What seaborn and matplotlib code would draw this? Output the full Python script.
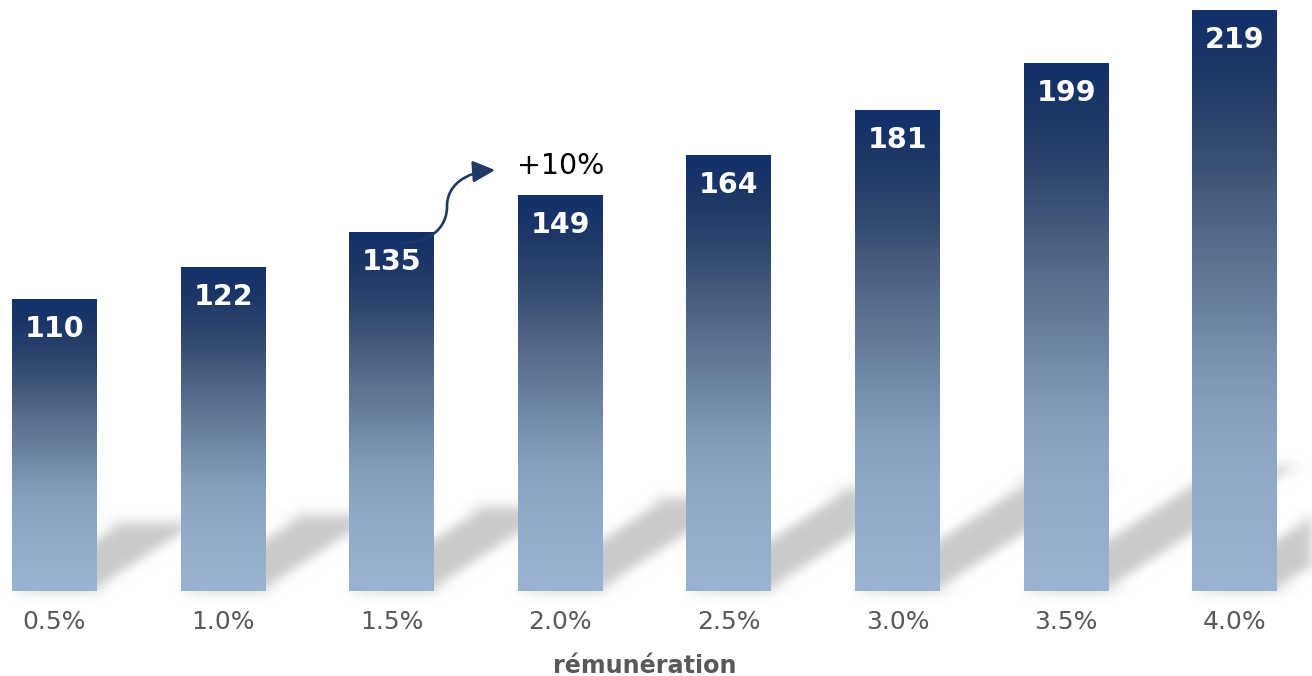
import numpy as np
import pandas as pd
import matplotlib
matplotlib.use("Agg")
import matplotlib.pyplot as plt
import seaborn as sns
from matplotlib.colors import LinearSegmentedColormap
from matplotlib.patches import Polygon, FancyArrowPatch
from matplotlib.path import Path

# --- data -------------------------------------------------------------
rates = ["0.5%", "1.0%", "1.5%", "2.0%", "2.5%", "3.0%", "3.5%", "4.0%"]
values = [110, 122, 135, 149, 164, 181, 199, 219]
x_title = "rémunération"
growth_note = "+10%"

# --- style ------------------------------------------------------------
BAR_WIDTH = 0.504
TICK_GREY = "#595959"
ARROW_NAVY = "#1f3864"
SHADOW_SHEAR = 0.0057    # horizontal lean of the cast shadow per unit of value
SHADOW_SQUASH = 0.235    # vertical foreshortening of the cast shadow
SHADOW_SIGMA = 6.5       # blur radius in pixels

grad = LinearSegmentedColormap.from_list(
    "bar_grad",
    [(0.00, "#9ab3d2"), (0.21, "#91a9c8"), (0.33, "#869ebd"),
     (0.44, "#7289aa"), (0.56, "#5f7394"), (0.67, "#4a5d82"),
     (0.79, "#2f466e"), (0.90, "#1e3866"), (1.00, "#12306a")],
)

sns.set_theme(style="white")
plt.rcParams["font.family"] = ["DejaVu Sans"]

fig = plt.figure(figsize=(13.12, 6.76), dpi=100)
ax = fig.add_axes([0, 85 / 676, 1, 591 / 676])

df = pd.DataFrame({"rate": rates, "value": values})
sns.barplot(data=df, x="rate", y="value", width=BAR_WIDTH, color="#12306a",
            saturation=1, ax=ax, zorder=3)


def gaussian_blur(img, dpi):
    pad = int(3 * SHADOW_SIGMA) + 2
    src = np.pad(img, ((pad, pad), (pad, pad), (0, 0)))
    k = np.arange(-pad, pad + 1)
    w = np.exp(-0.5 * (k / SHADOW_SIGMA) ** 2)
    w /= w.sum()
    tmp = np.zeros_like(src)
    for off, wk in zip(k, w):
        tmp += wk * np.roll(src, off, axis=0)
    out = np.zeros_like(src)
    for off, wk in zip(k, w):
        out += wk * np.roll(tmp, off, axis=1)
    return out, -pad, -pad


# gradient fill and cast shadow for each bar
for patch, v in zip(ax.patches, values):
    x0 = patch.get_x()
    x1 = x0 + patch.get_width()
    h = patch.get_height()
    g = np.linspace(0, 1, 256).reshape(-1, 1)
    ax.imshow(g, cmap=grad, origin="lower", aspect="auto",
              extent=[x0, x1, 0, h], zorder=3, interpolation="bicubic")
    patch.set_facecolor("none")
    patch.set_edgecolor("none")

    dx = SHADOW_SHEAR * v
    dy = SHADOW_SQUASH * v
    shadow = Polygon([(x0, 0), (x1, 0), (x1 + dx, dy), (x0 + dx, dy)],
                     closed=True, facecolor=(0, 0, 0, 0.21), edgecolor="none",
                     zorder=1)
    shadow.set_agg_filter(gaussian_blur)
    shadow.set_rasterized(True)
    ax.add_patch(shadow)

    ax.annotate(str(v), xy=(x0 + patch.get_width() / 2, h),
                xytext=(0, -21.2), textcoords="offset points",
                ha="center", va="center", color="white",
                fontsize=20.5, fontweight="bold", zorder=5)

ax.set_xlim(-0.323, 7.458)
ax.set_ylim(0, 222.8)

# growth annotation between the 1.5% and 2.0% bars
sx, sy = 2.061, values[2] - 3.8
ex, ey = 2.613, values[3] + 9.7
mx, my = 2.328, (sy + ey) / 2
verts = [(sx, sy), (sx + 0.166, sy), (mx, my - 8), (mx, my),
         (mx, my + 8), (mx + 0.107, ey - 0.8), (ex, ey)]
codes = [Path.MOVETO, Path.CURVE4, Path.CURVE4, Path.CURVE4,
         Path.CURVE4, Path.CURVE4, Path.CURVE4]
arrow = FancyArrowPatch(path=Path(verts, codes),
                        arrowstyle="-|>,head_length=0.45,head_width=0.22",
                        mutation_scale=30, color=ARROW_NAVY, lw=1.9,
                        zorder=6)
ax.add_patch(arrow)
ax.text(3, values[3] + 11.3, growth_note, ha="center", va="center",
        fontsize=20.5, color="black", zorder=6)

# axes dressing
for s in ax.spines.values():
    s.set_visible(False)
ax.set_yticks([])
ax.set_ylabel("")
ax.tick_params(axis="x", length=0, pad=14, labelsize=18, labelcolor=TICK_GREY)
ax.set_xlabel(x_title, fontsize=17.2, fontweight="bold", color=TICK_GREY)
ax.xaxis.label.set_va("baseline")
ax.xaxis.set_label_coords((3.5 + 0.323) / 7.781, -82 / 591)
ax.grid(False)

fig.savefig("out.png", dpi=100)
